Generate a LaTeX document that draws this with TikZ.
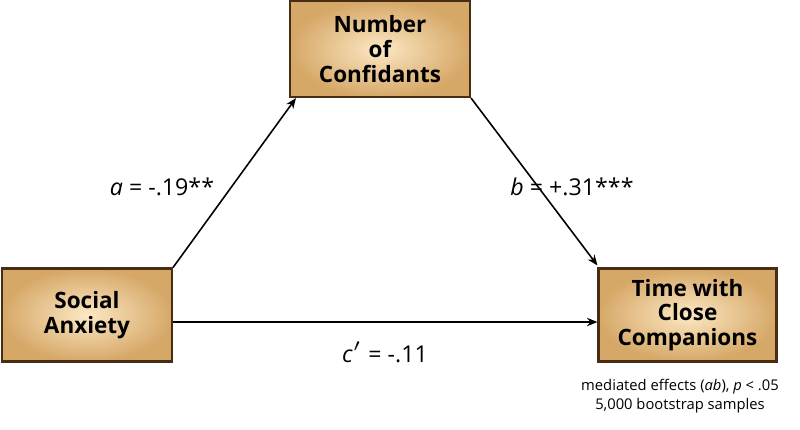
\documentclass[tikz,border=0pt]{standalone}
\usepackage{fontspec}
\setmainfont{Open Sans}
\usetikzlibrary{arrows.meta, positioning, calc}
\definecolor{boxinner}{RGB}{252, 232, 196}
\definecolor{boxouter}{RGB}{214, 168, 104}
\definecolor{boxedge}{RGB}{70, 45, 20}

\tikzset{
  varbox/.style={draw=boxedge, line width=0.6pt, inner color=boxinner, outer color=boxouter,
    align=center, font=\bfseries\fontsize{6.4}{7}\selectfont, inner sep=0pt},
  path/.style={-{Stealth[length=3pt, width=2.4pt]}, line width=0.45pt},
  coef/.style={font=\fontsize{6.6}{7.5}\selectfont}
}

\begin{document}
\begin{tikzpicture}
  \useasboundingbox (0,0) rectangle (8,4.29);
  % the three variables
  \node[varbox, minimum width=1.8cm, minimum height=0.96cm] (conf) at (3.8,3.80) {Number\\of\\Confidants};
  \node[varbox, minimum width=1.7cm, minimum height=0.93cm] (anx) at (0.87,1.14) {Social\\Anxiety};
  \node[varbox, minimum width=1.78cm, minimum height=0.93cm] (time) at (6.875,1.14) {Time with\\Close\\Companions};

  % paths
  \draw[path] (anx.north east) -- ($(conf.south west)+(0.07,0)$);
  \draw[path] (conf.south east) -- ($(time.north west)+(0,0.02)$);
  \draw[path] ($(anx.east)+(0,-0.07)$) -- ($(time.west)+(0,-0.07)$);

  % coefficients
  \node[coef] (la) at (1.62,2.42) {\textit{a} = -.19**};
  \node[coef] (lb) at (5.72,2.42) {\textit{b} = +.31***};
  \node[coef] (lc) at (3.85,0.77) {\textit{c}$'$ = -.11};

  % note
  \node[font=\fontsize{4.2}{5.2}\selectfont, align=center] (note) at (6.8,0.33)
    {mediated effects (\textit{ab}), \textit{p} < .05\\5,000 bootstrap samples};
\end{tikzpicture}
\end{document}
